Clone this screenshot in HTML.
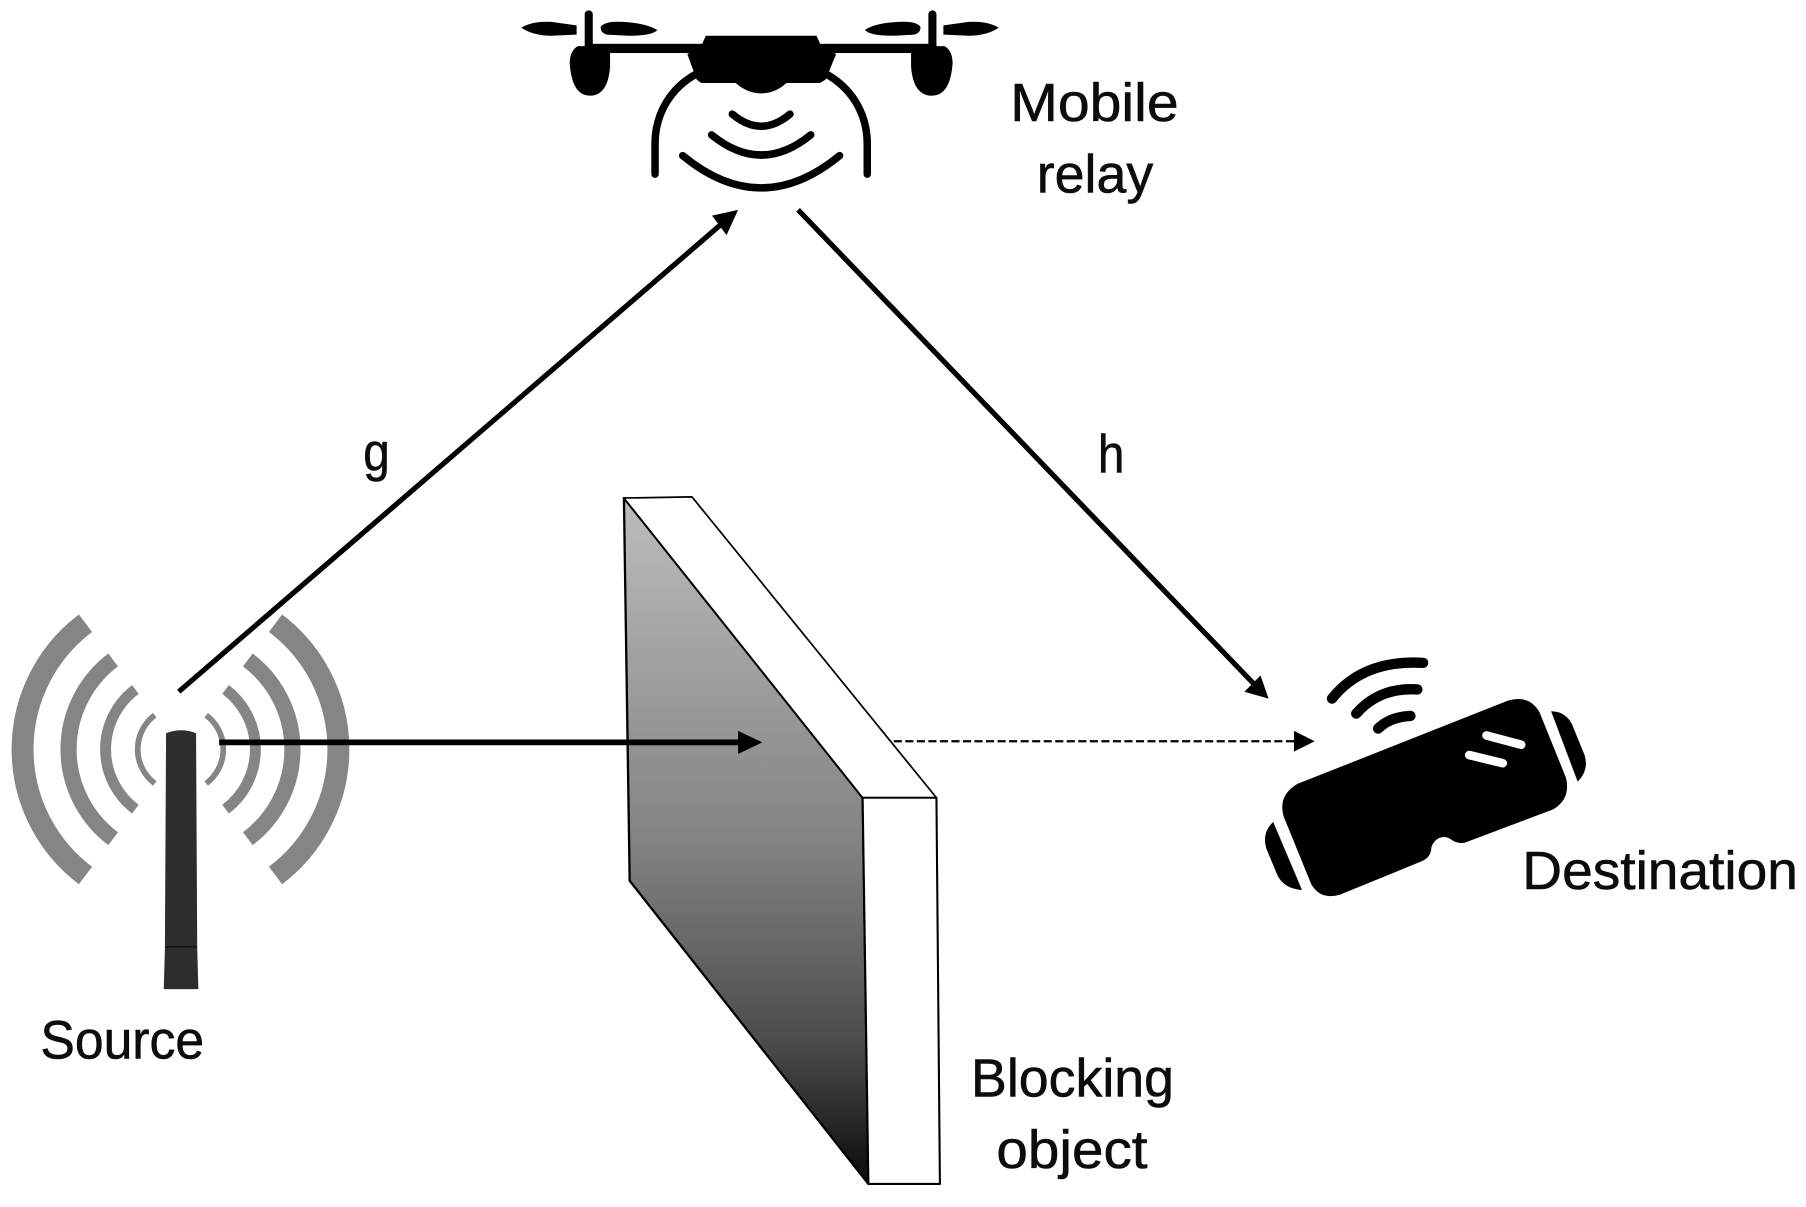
<!DOCTYPE html>
<html>
<head>
<meta charset="utf-8">
<style>
html,body{margin:0;padding:0;background:#fff;width:1806px;height:1207px;overflow:hidden}
svg{display:block}
text{font-family:"Liberation Sans",sans-serif;font-size:47px;fill:#0c0c0c;stroke:#0c0c0c;stroke-width:.5px}
</style>
</head>
<body>
<svg width="1806" height="1207" viewBox="0 0 1566 1047" preserveAspectRatio="none" xmlns="http://www.w3.org/2000/svg">
<defs>
<linearGradient id="w" gradientUnits="userSpaceOnUse" x1="0" y1="432" x2="0" y2="1027">
<stop offset="0" stop-color="#bcbcbc"/>
<stop offset=".5" stop-color="#838383"/>
<stop offset=".8" stop-color="#4a4a4a"/>
<stop offset="1" stop-color="#0a0a0a"/>
</linearGradient>
</defs>
<rect width="1566" height="1047" fill="#fff"/>

<!-- Drone -->
<g fill="#000">
<rect x="507" y="9" width="7" height="36" rx="3.5"/>
<rect x="805" y="9" width="7" height="36" rx="3.5"/>
<path d="M452,24 Q462,18 478,19 L500,22 V30 L478,31 Q462,31 452,24Z"/>
<path d="M521,23 Q525,18 540,19 Q560,20 570,26 Q566,31 545,31 L526,30 Q520,28 521,23Z"/>
<path d="M866,24 Q856,18 840,19 L818,22 V30 L840,31 Q856,31 866,24Z"/>
<path d="M798,23 Q794,18 779,19 Q759,20 750,26 Q754,31 775,31 L793,30 Q799,28 798,23Z"/>
<rect x="510" y="38" width="300" height="8"/>
<path d="M501,40 Q494,44 494,55 Q496,83 511.500,83 Q527,83 529,58 L529,40Z"/>
<path d="M819,40 Q826,44 826,55 Q824,83 808,83 Q792,83 790,58 L790,40Z"/>
<path d="M612,31 H708 L712,40 L725,47 L716,69 L711,72 H682 Q672,81 660,81 Q648,81 638,72 H608 L604,69 L596,47 L608,40Z"/>
</g>
<g fill="none" stroke="#000" stroke-width="6.500" stroke-linecap="round">
<path d="M604,64 C582,76 568,98 568,125 L568,151"/>
<path d="M716,64 C738,76 752,98 752,125 L752,151"/>
<path d="M635,99 Q660,120 685,99"/>
<path d="M617,117 Q660,152 703,117"/>
<path d="M592,135 Q660,191 728,135"/>
</g>

<!-- Wall -->
<polygon points="541,432 748,692 753,1027 546,764" fill="url(#w)" stroke="#000" stroke-width="2" stroke-linejoin="round"/>
<polygon points="541,432 600,431 812,692 748,692" fill="#fff" stroke="#000" stroke-width="1.5" stroke-linejoin="round"/>
<polygon points="748,692 812,692 815,1027 753,1027" fill="#fff" stroke="#000" stroke-width="1.800" stroke-linejoin="round"/>

<!-- Radio arcs -->
<g fill="none" stroke="#858585">
<path d="M74.100,540.600 A137,137 0 0 0 74.100,759.400" stroke-width="19"/>
<path d="M238.900,540.600 A137,137 0 0 1 238.900,759.400" stroke-width="19"/>
<path d="M98.100,572.500 A97,97 0 0 0 98.100,727.500" stroke-width="14"/>
<path d="M214.900,572.500 A97,97 0 0 1 214.900,727.500" stroke-width="14"/>
<path d="M117.400,598.100 A65,65 0 0 0 117.400,701.900" stroke-width="9.500"/>
<path d="M195.600,598.100 A65,65 0 0 1 195.600,701.900" stroke-width="9.500"/>
<path d="M134.200,620.400 A37,37 0 0 0 134.200,679.600" stroke-width="5"/>
<path d="M178.800,620.400 A37,37 0 0 1 178.800,679.600" stroke-width="5"/>
</g>

<!-- Antenna -->
<path d="M144,636 Q157,631 170,636 L171,821 H143Z" fill="#2d2d2d"/>
<path d="M143,822 H171 L172,858 H142Z" fill="#2d2d2d"/>
<line x1="143" y1="821.500" x2="171" y2="821.500" stroke="#111" stroke-width="1.500"/>

<!-- Arrows -->
<g stroke="#000" fill="none">
<line x1="155" y1="600" x2="626" y2="194" stroke-width="4.500"/>
<line x1="692" y1="182" x2="1087" y2="593" stroke-width="4.500"/>
<line x1="190" y1="644" x2="642" y2="644" stroke-width="5"/>
<line x1="775" y1="643" x2="1124" y2="643" stroke-width="2" stroke-dasharray="7 3"/>
</g>
<polygon points="640,182 617.400,187 630,204" fill="#000"/>
<polygon points="1100,606 1093,586 1079,600" fill="#000"/>
<polygon points="661,644 640,634 640,654" fill="#000"/>
<polygon points="1140,643 1122,634 1122,652" fill="#000"/>

<!-- VR headset -->
<g fill="#000">
<path d="M1125,680 L1307,608 Q1326,602 1335,618 L1358,675 Q1362,693 1347,702 L1270,731 Q1263,732 1258,728 Q1252,724 1246,728 Q1241,732 1241,737 Q1240,744 1233,747 L1162,776 Q1145,781 1137,767 L1113,708 Q1108,690 1125,680Z"/>
<path d="M1345,617 Q1357,617 1363,628 L1374,655 Q1378,668 1368,678Z"/>
<path d="M1104,713 Q1094,722 1098,736 L1108,760 Q1114,771 1129,772Z"/>
</g>
<g stroke="#fff" stroke-width="7.500" stroke-linecap="round">
<line x1="1289" y1="638" x2="1319" y2="646"/>
<line x1="1274" y1="655" x2="1303" y2="662"/>
</g>
<g fill="none" stroke="#000" stroke-width="9" stroke-linecap="round">
<path d="M1155,606 Q1182,572 1234,575"/>
<path d="M1176,619 Q1196,596 1229,598"/>
<path d="M1195,632 Q1205,622 1223,621"/>
</g>

<!-- Labels -->
<text x="876" y="105" textLength="146" lengthAdjust="spacingAndGlyphs">Mobile</text>
<text x="899" y="167" textLength="101" lengthAdjust="spacingAndGlyphs">relay</text>
<text x="315" y="408" textLength="23" lengthAdjust="spacingAndGlyphs">g</text>
<text x="952" y="410" textLength="23" lengthAdjust="spacingAndGlyphs">h</text>
<text x="1320" y="771" textLength="239" lengthAdjust="spacingAndGlyphs">Destination</text>
<text x="35" y="918" textLength="142" lengthAdjust="spacingAndGlyphs">Source</text>
<text x="842" y="951" textLength="176" lengthAdjust="spacingAndGlyphs">Blocking</text>
<text x="864" y="1013" textLength="131" lengthAdjust="spacingAndGlyphs">object</text>
</svg>
</body>
</html>
